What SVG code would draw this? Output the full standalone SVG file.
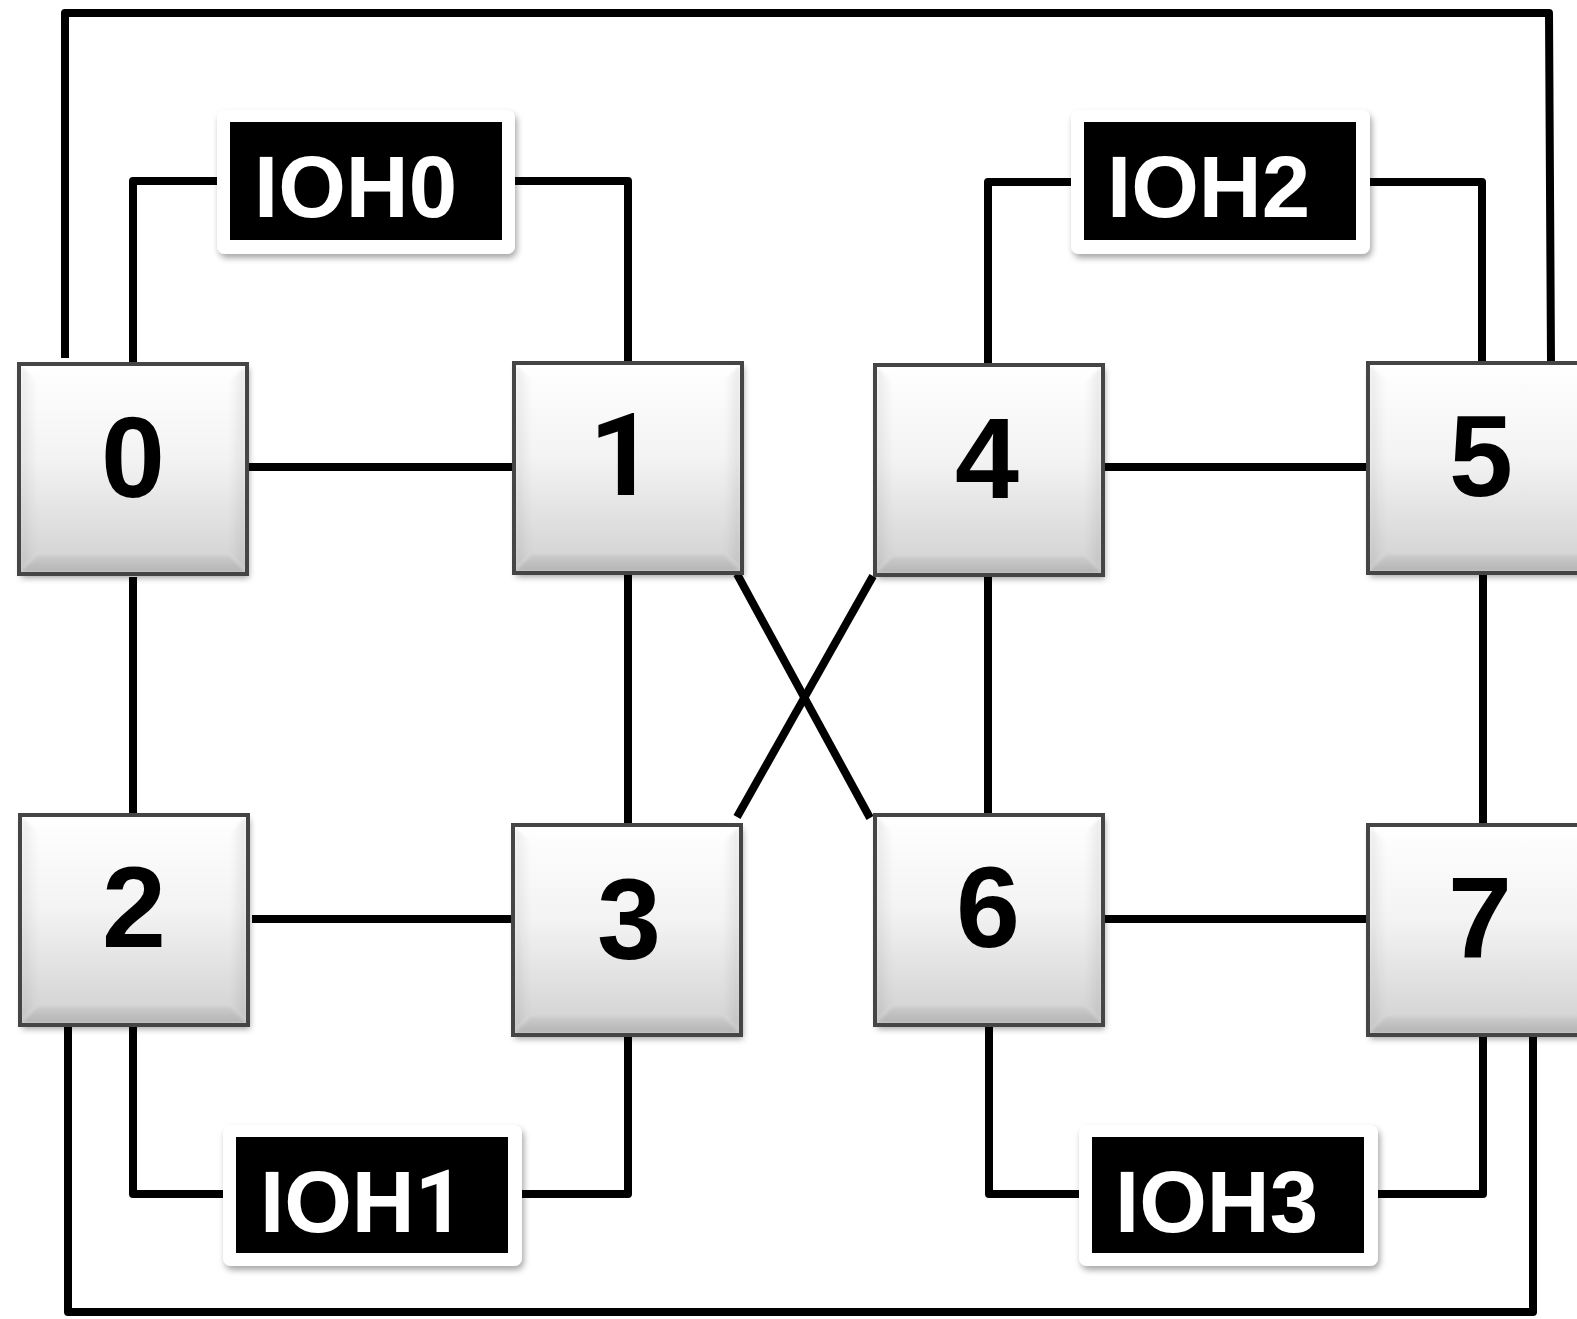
<svg xmlns="http://www.w3.org/2000/svg" xmlns:xlink="http://www.w3.org/1999/xlink" width="1577" height="1319" viewBox="0 0 1577 1319">
  <style>
    .link { fill: none; stroke: #000; stroke-width: 8; stroke-linejoin: round; stroke-linecap: butt; }
    .num { font-family: "Liberation Sans", Arial, sans-serif; font-weight: bold; font-size: 115px; fill: #000; text-anchor: middle; }
    .one { font-family: Roboto, "Liberation Sans", Arial, sans-serif; font-weight: bold; }
    .ioh { font-family: "Liberation Sans", Arial, sans-serif; font-weight: bold; font-size: 87px; fill: #fff; }
    .plate { fill: #fff; }
    .tag { fill: #000; }
  </style>
  <defs>
    <linearGradient id="face" x1="0" y1="0" x2="0" y2="1">
      <stop offset="0" stop-color="#ffffff"/>
      <stop offset="0.45" stop-color="#f3f3f3"/>
      <stop offset="1" stop-color="#d0d0d0"/>
    </linearGradient>
    <linearGradient id="bevelBottom" x1="0" y1="0" x2="0" y2="1">
      <stop offset="0" stop-color="#cbcbcb"/>
      <stop offset="1" stop-color="#b4b4b4"/>
    </linearGradient>
    <linearGradient id="bevelLeft" x1="0" y1="0" x2="1" y2="0">
      <stop offset="0" stop-color="#000" stop-opacity="0.07"/>
      <stop offset="1" stop-color="#000" stop-opacity="0"/>
    </linearGradient>
    <linearGradient id="bevelRight" x1="1" y1="0" x2="0" y2="0">
      <stop offset="0" stop-color="#000" stop-opacity="0.08"/>
      <stop offset="1" stop-color="#000" stop-opacity="0"/>
    </linearGradient>
    <filter id="shadow" x="-10%" y="-10%" width="130%" height="130%">
      <feDropShadow dx="2" dy="4" stdDeviation="3" flood-color="#000" flood-opacity="0.35"/>
    </filter>
    <filter id="soft" x="-5%" y="-5%" width="110%" height="110%">
      <feGaussianBlur stdDeviation="1.6"/>
    </filter>
    <!-- beveled switch box, 228 x 210 -->
    <g id="box">
      <rect x="0" y="0" width="228" height="210" fill="url(#face)" filter="url(#shadow)"/>
      <g filter="url(#soft)">
        <polygon points="2,2 18,18 18,192 2,208" fill="url(#bevelLeft)"/>
        <polygon points="226,2 210,18 210,192 226,208" fill="url(#bevelRight)"/>
        <polygon points="2,208 226,208 210,192 18,192" fill="url(#bevelBottom)"/>
      </g>
      <rect x="0" y="0" width="228" height="210" fill="none" stroke="#454545" stroke-width="4"/>
    </g>
  </defs>

  <rect x="0" y="0" width="1577" height="1319" fill="#fff"/>

  <g id="connectors">
    <!-- outer ring top and bottom -->
    <path class="link" d="M65,358 V13 H1549 L1551,363"/>
    <path class="link" d="M68,1025 V1312 H1533 V1031"/>
    <!-- IOH links -->
    <path class="link" d="M133,364 V181 H217"/>
    <path class="link" d="M515,181 H628 V363"/>
    <path class="link" d="M988,365 V182 H1071"/>
    <path class="link" d="M1370,182 H1482 V363"/>
    <path class="link" d="M133,1025 V1194 H223"/>
    <path class="link" d="M522,1194 H628 V1035"/>
    <path class="link" d="M989,1025 V1194 H1079"/>
    <path class="link" d="M1378,1194 H1483 V1035"/>
    <!-- node to node -->
    <path class="link" d="M248,467 H514"/>
    <path class="link" d="M1101,467 H1368"/>
    <path class="link" d="M252,919 H513"/>
    <path class="link" d="M1105,919 H1368"/>
    <path class="link" d="M133,577 V815"/>
    <path class="link" d="M628,573 V825"/>
    <path class="link" d="M988,575 V815"/>
    <path class="link" d="M1483,573 V825"/>
    <path class="link" d="M737,574 L870,818"/>
    <path class="link" d="M737,817 L873,576"/>
  </g>

  <g id="node0"><use xlink:href="#box" x="19" y="364"/><text class="num" x="133" y="497">0</text></g>
  <g id="node1"><use xlink:href="#box" x="514" y="363"/><text class="num one" x="622" y="495">1</text></g>
  <g id="node4"><use xlink:href="#box" x="875" y="365"/><text class="num" x="987" y="498">4</text></g>
  <g id="node5"><use xlink:href="#box" x="1368" y="363"/><text class="num" x="1481" y="496">5</text></g>
  <g id="node2"><use xlink:href="#box" x="20" y="815"/><text class="num" x="134" y="947">2</text></g>
  <g id="node3"><use xlink:href="#box" x="513" y="825"/><text class="num" x="629" y="959">3</text></g>
  <g id="node6"><use xlink:href="#box" x="875" y="815"/><text class="num" x="988" y="947">6</text></g>
  <g id="node7"><use xlink:href="#box" x="1368" y="825"/><text class="num" x="1480" y="957">7</text></g>

  <g id="ioh0">
    <rect class="plate" x="217" y="110" width="298" height="144" rx="8" filter="url(#shadow)"/>
    <rect class="tag" x="230" y="122" width="272" height="118"/>
    <text class="ioh" x="254" y="217">IOH0</text>
  </g>
  <g id="ioh2">
    <rect class="plate" x="1071" y="110" width="299" height="144" rx="8" filter="url(#shadow)"/>
    <rect class="tag" x="1084" y="122" width="272" height="118"/>
    <text class="ioh" x="1107" y="217">IOH2</text>
  </g>
  <g id="ioh1">
    <rect class="plate" x="223" y="1125" width="299" height="141" rx="8" filter="url(#shadow)"/>
    <rect class="tag" x="236" y="1137" width="272" height="116"/>
    <text class="ioh" x="260" y="1232">IOH<tspan class="one">1</tspan></text>
  </g>
  <g id="ioh3">
    <rect class="plate" x="1079" y="1125" width="299" height="141" rx="8" filter="url(#shadow)"/>
    <rect class="tag" x="1092" y="1137" width="272" height="116"/>
    <text class="ioh" x="1115" y="1232">IOH3</text>
  </g>
</svg>
